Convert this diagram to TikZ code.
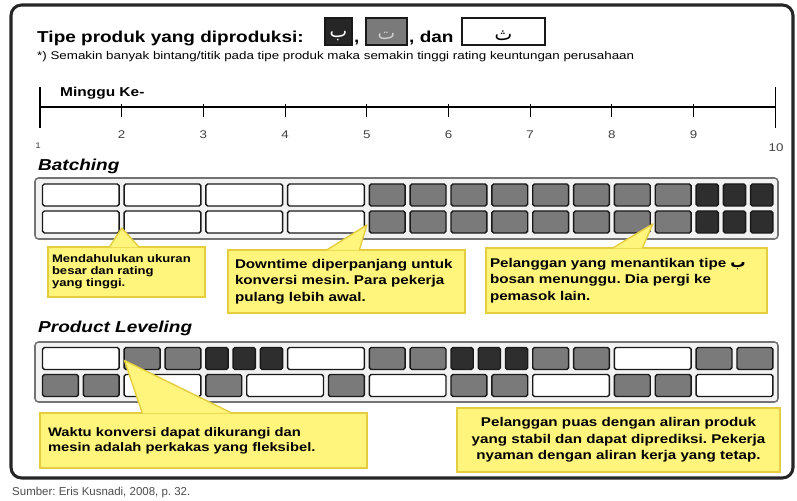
\documentclass[tikz,border=0pt]{standalone}
\usepackage{fontspec}
\setmainfont{Liberation Sans}[FakeStretch=1.2]
\newfontfamily\polos{Liberation Sans}
\newfontfamily\arab[Script=Arabic]{DejaVu Sans}
\usetikzlibrary{calc}
\frenchspacing
\definecolor{kuning}{RGB}{255,245,125}
\definecolor{kuningtepi}{RGB}{228,206,64}
\tikzstyle{bingkai}=[draw=black!85,line width=2.6pt,rounded corners=9pt]
\tikzstyle{baki}=[draw=black!55,fill=black!5,line width=1.3pt,rounded corners=3pt]
\tikzstyle{blok}=[draw=black!90,line width=1.2pt,rounded corners=1.5pt,inner sep=0pt,minimum height=6.6mm]
\tikzstyle{wblok}=[blok,fill=white]
\tikzstyle{gblok}=[blok,fill=black!52]
\tikzstyle{dblok}=[blok,fill=black!82]
\tikzstyle{lbox}=[draw=black!90,line width=1.2pt,inner sep=0pt,minimum height=8.1mm]
\tikzstyle{catatan}=[draw=kuningtepi,fill=kuning,line width=1.2pt,inner sep=0pt]
\tikzstyle{panah}=[fill=kuning,draw=kuningtepi,line width=1.2pt,line join=round]
\tikzstyle{angka}=[text=black!75,inner sep=0pt,font=\fontsize{9.5}{10}\selectfont]

\begin{document}
\begin{tikzpicture}[x=0.3mm,y=-0.3mm]
\def \wk {81.7};
\def \xo {40};
\def \px {0.3mm};
\useasboundingbox (0,0) rectangle (797,501);

\draw[bingkai] (11,5) rectangle (793,478);

% judul dan legenda
\node[anchor=base west,inner sep=0pt,font=\bfseries\fontsize{13.5}{15}\selectfont] (judul) at (37,43) {Tipe produk yang diproduksi:};
\node[lbox,fill=black!85,minimum width=27*\px,
  label={[yshift=-1.3mm,text=white,font=\arab\fontsize{16}{16}\selectfont]center:ب}] (lb) at (338.5,31.5) {};
\node[anchor=base west,inner sep=0pt,font=\bfseries\fontsize{13.5}{15}\selectfont] (k1) at (354,43) {,};
\node[lbox,fill=black!52,minimum width=41*\px,
  label={[yshift=-1.3mm,text=black!20,font=\arab\fontsize{16}{16}\selectfont]center:ت}] (lt) at (386.5,31.5) {};
\node[anchor=base west,inner sep=0pt,font=\bfseries\fontsize{13.5}{15}\selectfont] (k2) at (409,43) {, dan};
\node[lbox,fill=white,minimum width=83*\px,
  label={[yshift=-1.3mm,font=\arab\fontsize{16}{16}\selectfont]center:ث}] (lth) at (503.5,31.5) {};
\node[anchor=base west,inner sep=0pt,font=\fontsize{9.5}{10}\selectfont] (ket) at (37,60)
  {*) Semakin banyak bintang/titik pada tipe produk maka semakin tinggi rating keuntungan perusahaan};

% garis minggu
\node[anchor=base west,inner sep=0pt,font=\bfseries\fontsize{11}{12}\selectfont] (minggu) at (60,97) {Minggu Ke-};
\draw[line width=2pt] (\xo,107) -- (\xo+9*\wk,107);
\draw[line width=1.3pt] (\xo,87) -- (\xo,128);
\draw[line width=1.3pt] (\xo+9*\wk,87) -- (\xo+9*\wk,128);
\foreach \i in {2,...,9} {
	\draw[line width=1pt] (\xo+\i*\wk-\wk,104) -- (\xo+\i*\wk-\wk,117);
	\node[angka] (n\i) at (\xo+\i*\wk-\wk,135) {\i};
};
\node[angka,font=\fontsize{7}{8}\selectfont] (n1) at (38,146) {1};
\node[angka] (n10) at (776,148) {10};

% batching
\node[anchor=base west,inner sep=0pt,font=\bfseries\itshape\fontsize{13.5}{15}\selectfont] (batching) at (38,171) {Batching};
\draw[baki] (35,178) rectangle (778,239);
\foreach \r/\y in {1/195,2/222} {
	\foreach \s/\l/\t [count=\n] in {1/1/wblok,2/1/wblok,3/1/wblok,4/1/wblok,
		5/.5/gblok,5.5/.5/gblok,6/.5/gblok,6.5/.5/gblok,7/.5/gblok,7.5/.5/gblok,8/.5/gblok,8.5/.5/gblok,
		9/.3333/dblok,9.3333/.3333/dblok,9.6667/.3333/dblok} {
		\node[\t,minimum width={(\l*\wk-5)*\px}] (b\r-\n) at ({\xo+(\s-1+\l/2)*\wk},\y) {};
	};
};

% product leveling
\node[anchor=base west,inner sep=0pt,font=\bfseries\itshape\fontsize{13.5}{15}\selectfont] (leveling) at (38,333) {Product Leveling};
\draw[baki] (35,342) rectangle (778,402);
\foreach \s/\l/\t [count=\n] in {1/1/wblok,2/.5/gblok,2.5/.5/gblok,3/.3333/dblok,3.3333/.3333/dblok,3.6667/.3333/dblok,
	4/1/wblok,5/.5/gblok,5.5/.5/gblok,6/.3333/dblok,6.3333/.3333/dblok,6.6667/.3333/dblok,
	7/.5/gblok,7.5/.5/gblok,8/1/wblok,9/.5/gblok,9.5/.5/gblok} {
	\node[\t,minimum width={(\l*\wk-5)*\px}] (pl1-\n) at ({\xo+(\s-1+\l/2)*\wk},358.5) {};
};
\foreach \s/\l/\t [count=\n] in {1/.5/gblok,1.5/.5/gblok,2/1/wblok,3/.5/gblok,3.5/1/wblok,4.5/.5/gblok,
	5/1/wblok,6/.5/gblok,6.5/.5/gblok,7/1/wblok,8/.5/gblok,8.5/.5/gblok,9/1/wblok} {
	\node[\t,minimum width={(\l*\wk-5)*\px}] (pl2-\n) at ({\xo+(\s-1+\l/2)*\wk},385.5) {};
};

% catatan
\node[catatan,minimum width=157*\px,minimum height=50*\px,text width=149*\px,align=left,
  font=\bfseries\fontsize{9.3}{10.3}\selectfont] (c1) at (126.5,272)
  {Mendahulukan ukuran\\besar dan rating\\yang tinggi.};
\filldraw[panah] ($(c1.north west)+(62,1)$) -- ($(b2-1.east)!.5!(b2-2.west)+(0,6)$) -- ($(c1.north west)+(92,1)$);

\node[catatan,minimum width=237*\px,minimum height=63*\px,text width=223*\px,align=left,
  font=\bfseries\fontsize{10.8}{14}\selectfont] (c2) at (346.5,281.5)
  {Downtime diperpanjang untuk\\konversi mesin. Para pekerja\\pulang lebih awal.};
\filldraw[panah] ($(c2.north west)+(99,1)$) -- ($(b2-4.east)!.5!(b2-5.west)+(0,3)$) -- ($(c2.north west)+(132,1)$);

\node[catatan,minimum width=281*\px,minimum height=65*\px,text width=273*\px,align=left,
  font=\bfseries\fontsize{10.8}{14}\selectfont] (c3) at (626.5,280.5)
  {Pelanggan yang menantikan tipe {\arab\fontsize{13}{14}\selectfont ب}\\bosan menunggu. Dia pergi ke\\pemasok lain.};
\filldraw[panah] ($(c3.north west)+(127,1)$) -- ($(b2-11.east)!.5!(b2-12.west)+(0,2)$) -- ($(c3.north west)+(157,1)$);

\node[catatan,minimum width=327*\px,minimum height=55*\px,text width=311*\px,align=left,
  font=\bfseries\fontsize{10.5}{12.8}\selectfont] (c4) at (203.5,440.5)
  {Waktu konversi dapat dikurangi dan\\mesin adalah perkakas yang fleksibel.};
\filldraw[panah] ($(c4.north west)+(103,1)$) -- ($(pl1-2.west)+(1,2)$) -- ($(c4.north west)+(193,1)$);

\node[catatan,minimum width=323*\px,minimum height=64*\px,text width=315*\px,align=center,
  font=\bfseries\fontsize{10.8}{14}\selectfont] (c5) at (618.5,440)
  {Pelanggan puas dengan aliran produk\\yang stabil dan dapat diprediksi. Pekerja\\nyaman dengan aliran kerja yang tetap.};

% sumber
\node[anchor=base west,inner sep=0pt,text=black!70,font=\polos\fontsize{9.8}{11}\selectfont] (sumber) at (12,495) {Sumber: Eris Kusnadi, 2008, p. 32.};

\end{tikzpicture}
\end{document}
